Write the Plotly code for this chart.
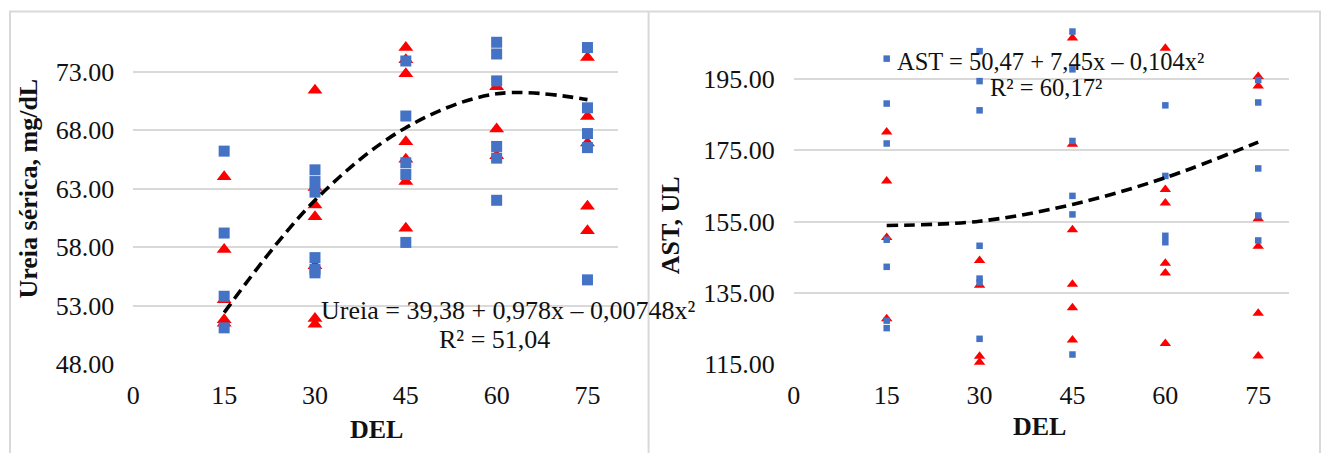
import plotly.graph_objects as go

# ---------------- data ----------------
del_ticks = [0, 15, 30, 45, 60, 75]
ureia_ticks = [48, 53, 58, 63, 68, 73]
ast_ticks = [115, 135, 155, 175, 195]

ureia_blue_del = [15, 15, 15, 15,
                  30, 30, 30, 30, 30, 30,
                  45, 45, 45, 45, 45,
                  60, 60, 60, 60, 60, 60,
                  75, 75, 75, 75, 75]
ureia_blue = [66.2, 59.2, 53.8, 51.1,
              64.6, 63.6, 62.7, 57.1, 56.1, 55.8,
              73.9, 69.2, 65.2, 64.2, 58.4,
              75.5, 74.5, 72.2, 66.6, 65.6, 62.0,
              75.05, 69.9, 67.7, 66.5, 55.2]

ureia_red_del = [15, 15, 15, 15, 15,
                 30, 30, 30, 30, 30, 30, 30,
                 45, 45, 45, 45, 45, 45, 45,
                 60, 60, 60,
                 75, 75, 75, 75, 75]
ureia_red = [64.0, 57.8, 53.5, 51.8, 51.5,
             71.4, 63.1, 61.6, 60.6, 56.4, 51.9, 51.4,
             75.05, 74.0, 72.8, 67.0, 65.5, 63.6, 59.6,
             71.7, 68.1, 65.8,
             74.2, 69.15, 66.9, 61.5, 59.4]

ast_blue_del = [15, 15, 15, 15, 15, 15, 15,
                30, 30, 30, 30, 30, 30, 30,
                45, 45, 45, 45, 45, 45,
                60, 60, 60, 60,
                75, 75, 75, 75, 75]
ast_blue = [200.7, 188.1, 176.9, 149.9, 142.3, 127.2, 125.1,
            202.8, 194.4, 186.2, 148.2, 139.0, 137.9, 122.1,
            208.3, 197.7, 177.6, 162.2, 157.0, 117.7,
            187.6, 167.8, 151.0, 149.2,
            194.7, 188.4, 169.9, 156.7, 149.7]

ast_red_del = [15, 15, 15, 15,
               30, 30, 30, 30,
               45, 45, 45, 45, 45, 45,
               60, 60, 60, 60, 60, 60,
               75, 75, 75, 75, 75, 75]
ast_red = [180.1, 166.4, 150.5, 127.7,
           144.1, 137.1, 117.2, 115.5,
           206.5, 176.7, 152.7, 137.4, 130.8, 121.8,
           203.6, 164.0, 160.2, 143.3, 140.6, 120.8,
           195.7, 193.0, 155.8, 148.1, 129.3, 117.3]

trend_del = [15, 30, 45, 60, 75]
ureia_trend = [52.4, 62.0, 68.2, 71.1, 70.6]
ast_trend = [153.9, 155.1, 159.8, 167.3, 177.3]

ureia_eq = "Ureia = 39,38 + 0,978x – 0,00748x²"
ureia_r2 = "R² = 51,04"
ast_eq = "AST = 50,47 + 7,45x – 0,104x²"
ast_r2 = "R² = 60,17²"

# ---------------- styling ----------------
W, H = 1322, 453
FONT = "Liberation Serif, Times New Roman, serif"
TXT = "#111111"
GRID = "#d9d9d9"
BLUE = "#4472C4"
RED = "#FF0000"
VS = 0.966  # vertical compensation


def px(x):
    return x / W


def py(y):
    return 1 - ((y - 0.5) / VS) / H


fig = go.Figure()

# left panel
fig.add_trace(go.Scatter(x=ureia_red_del, y=ureia_red, mode="markers",
                         marker=dict(symbol="triangle-up", size=13, color=RED, line=dict(width=0)),
                         xaxis="x", yaxis="y", cliponaxis=False))
fig.add_trace(go.Scatter(x=ureia_blue_del, y=ureia_blue, mode="markers",
                         marker=dict(symbol="square", size=11, color=BLUE, line=dict(width=0)),
                         xaxis="x", yaxis="y", cliponaxis=False))
fig.add_trace(go.Scatter(x=trend_del, y=ureia_trend, mode="lines",
                         line=dict(color="black", width=3.6, dash="11px,6px", shape="spline"),
                         xaxis="x", yaxis="y"))

# right panel
fig.add_trace(go.Scatter(x=ast_red_del, y=ast_red, mode="markers",
                         marker=dict(symbol="triangle-up", size=10, color=RED, line=dict(width=0)),
                         xaxis="x2", yaxis="y2", cliponaxis=False))
fig.add_trace(go.Scatter(x=ast_blue_del, y=ast_blue, mode="markers",
                         marker=dict(symbol="square", size=6.5, color=BLUE, line=dict(width=0)),
                         xaxis="x2", yaxis="y2", cliponaxis=False))
fig.add_trace(go.Scatter(x=trend_del, y=ast_trend, mode="lines",
                         line=dict(color="black", width=3.6, dash="11px,6px", shape="spline"),
                         xaxis="x2", yaxis="y2"))

tickfont = dict(family=FONT, size=26, color=TXT)
ydom = [py(364.3), py(13.5)]

xcommon = dict(range=[0, 80], tickvals=del_ticks, ticktext=[str(t) for t in del_ticks],
               showgrid=False, zeroline=False, showline=False, ticks="",
               tickfont=tickfont, ticklabelstandoff=13, fixedrange=True)
ycommon = dict(showgrid=True, gridcolor=GRID, gridwidth=1.6, zeroline=False, showline=False,
               ticks="", tickfont=tickfont, ticklabelstandoff=18, domain=ydom)

fig.update_layout(
    width=W, height=H,
    margin=dict(l=0, r=0, t=0, b=0),
    paper_bgcolor="white", plot_bgcolor="white",
    showlegend=False,
    xaxis=dict(domain=[px(127), px(614)], anchor="y", **xcommon),
    yaxis=dict(range=[48, 78], tickvals=ureia_ticks,
               ticktext=[f"{t:.2f}" for t in ureia_ticks], anchor="x", **ycommon),
    xaxis2=dict(domain=[px(791), px(1289)], anchor="y2", **xcommon),
    yaxis2=dict(range=[115, 213.5], tickvals=ast_ticks,
                ticktext=[f"{t:.2f}" for t in ast_ticks], anchor="x2", **ycommon),
)

ann_font = dict(family=FONT, size=26, color=TXT)
eq2_font = dict(family=FONT, size=24.5, color=TXT)
title_font = dict(family=FONT, size=26, color=TXT, weight="bold")
annotations = [
    dict(text=ureia_eq, x=px(314), y=py(311), xanchor="left", yanchor="middle", font=ann_font),
    dict(text=ureia_r2, x=px(490), y=py(340), xanchor="center", yanchor="middle", font=ann_font),
    dict(text=ast_eq, x=px(893), y=py(62), xanchor="left", yanchor="middle", font=eq2_font),
    dict(text=ast_r2, x=px(1045), y=py(88), xanchor="center", yanchor="middle", font=eq2_font),
    dict(text="<b>Ureia sérica, mg/dL</b>", x=px(22), y=py(189), textangle=-90,
         xanchor="center", yanchor="middle", font=title_font),
    dict(text="<b>AST, UL</b>", x=px(667), y=py(225), textangle=-90,
         xanchor="center", yanchor="middle", font=title_font),
    dict(text="<b>DEL</b>", x=px(371), y=py(430), xanchor="center", yanchor="middle", font=title_font),
    dict(text="<b>DEL</b>", x=px(1038), y=py(427), xanchor="center", yanchor="middle", font=title_font),
]
for a in annotations:
    a.update(xref="paper", yref="paper", showarrow=False)
fig.update_layout(annotations=annotations)

# panel borders
fig.add_shape(type="rect", xref="paper", yref="paper",
              x0=px(3), x1=px(1320), y0=-0.1, y1=py(12),
              line=dict(color=GRID, width=2), fillcolor="rgba(0,0,0,0)", layer="below")
fig.add_shape(type="line", xref="paper", yref="paper",
              x0=px(645), x1=px(645), y0=-0.1, y1=py(12),
              line=dict(color=GRID, width=2), layer="below")

fig.write_html("out.html")
